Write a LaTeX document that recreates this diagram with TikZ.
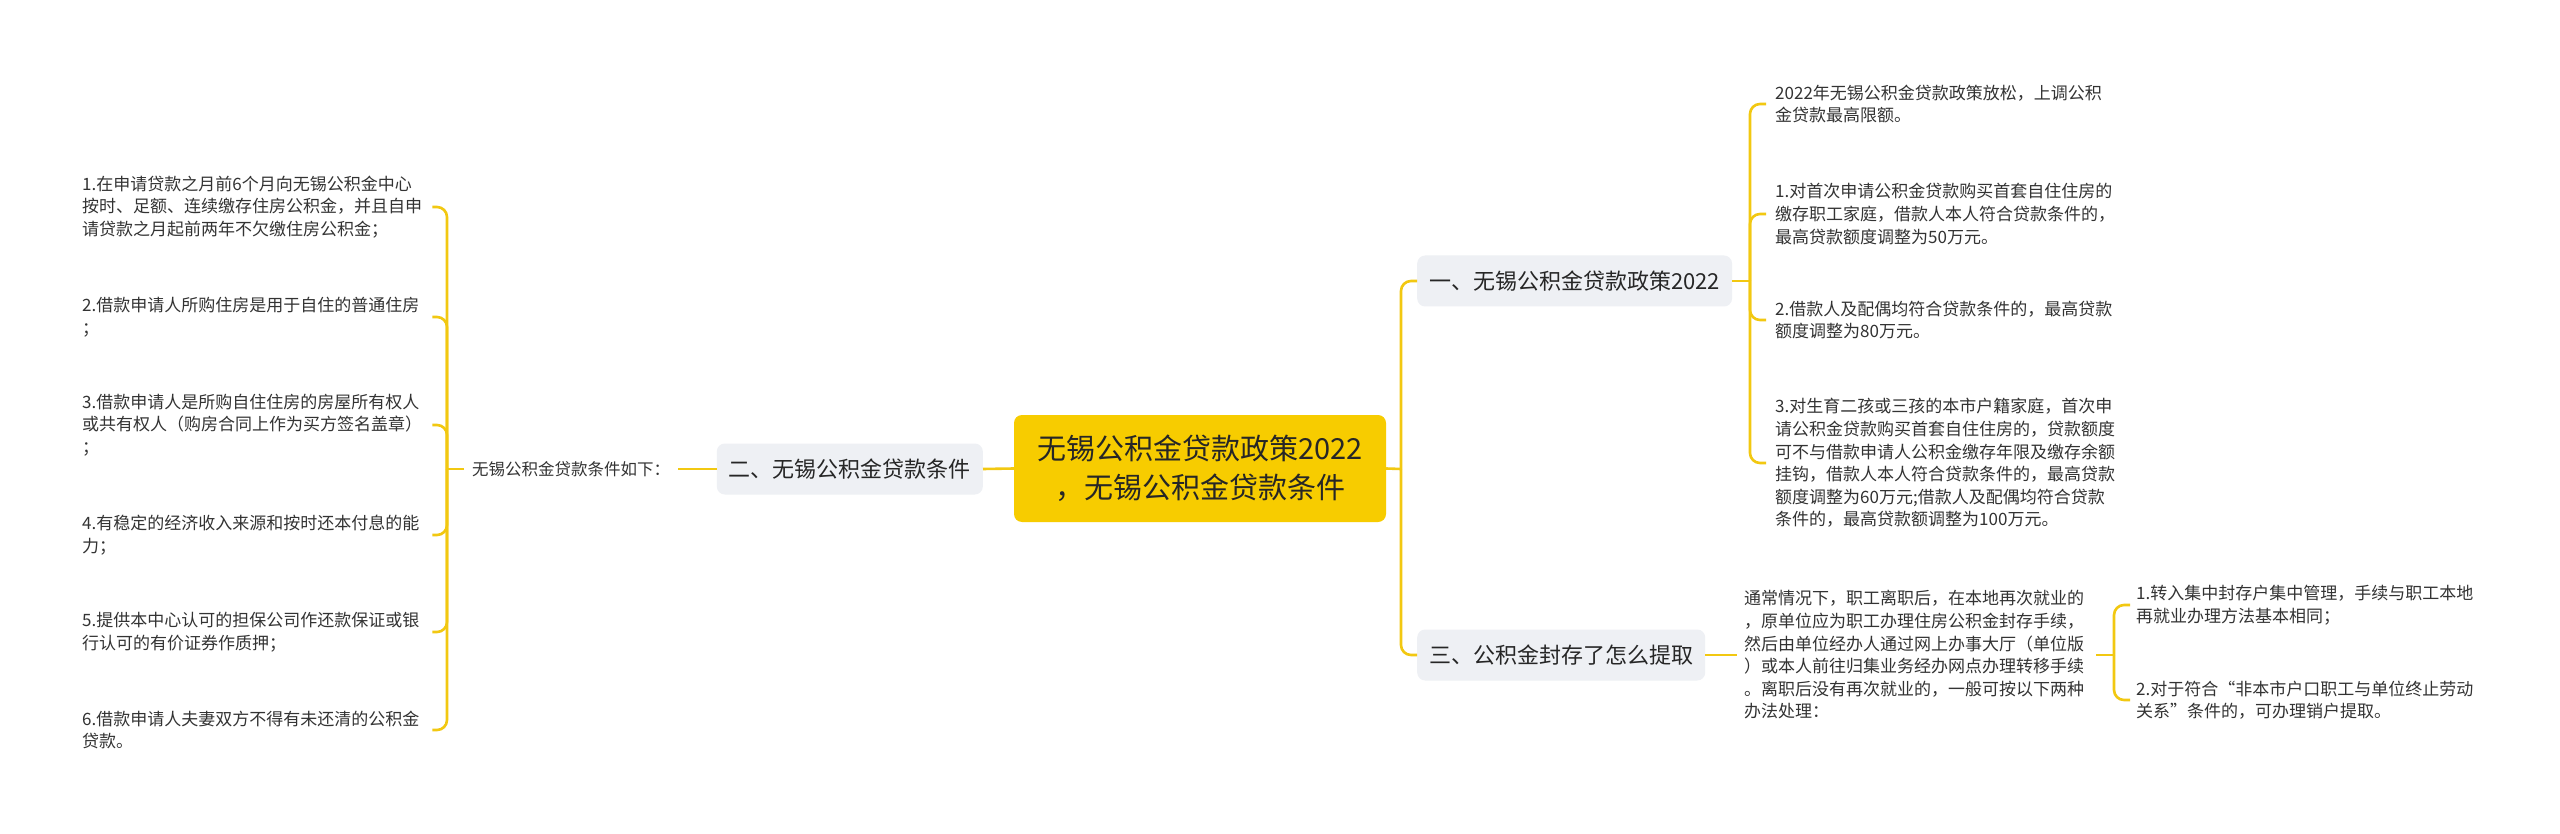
\documentclass[tikz,border=0pt]{standalone}
\usepackage{fontspec}
\setmainfont{Noto Sans CJK SC}
\definecolor{linegold}{HTML}{F2C811}
\definecolor{rootgold}{HTML}{F7CC00}
\definecolor{topicgray}{HTML}{EEF0F4}
\definecolor{inkgray}{HTML}{333333}

\begin{document}
\begin{tikzpicture}[x=1pt,y=-1pt,
	conn/.style={draw=linegold,line width=2.6pt},
	fork/.style={conn,rounded corners=10pt},
	rootbox/.style={fill=rootgold,rounded corners=8pt,minimum width=372pt,minimum height=107pt,align=center,font=\fontsize{29}{39}\selectfont,text=black!85},
	topic/.style={fill=topicgray,rounded corners=8pt,minimum height=51pt,inner xsep=12pt,font=\fontsize{22}{26}\selectfont,text=black!85},
	leaf/.style={inner ysep=0pt,text width=345pt,align=left,font=\fontsize{17}{22.6}\selectfont,text=inkgray}]
	 \fill[white] (0,0) rectangle (2560,834);%page size
	 \useasboundingbox (0,0) rectangle (2560,834);

	    \node[rootbox] (root) at (1200,468.5) {无锡公积金贷款政策2022\\，无锡公积金贷款条件};

	    \node[topic,anchor=west] (t1) at (1417,281) {一、无锡公积金贷款政策2022};
	    \node[topic,anchor=east] (t2) at (983,469) {二、无锡公积金贷款条件};
	    \node[topic,anchor=west] (t3) at (1417,655) {三、公积金封存了怎么提取};

	    \coordinate (rs) at (1401,469);
	    \draw[conn] (root.east) -- (rs);
	    \draw[fork] (rs) |- (t1.west);
	    \draw[fork] (rs) |- (t3.west);
	    \draw[conn] (root.west) -- (t2.east);

	    % left side
	    \node[anchor=west,inner xsep=8pt,font=\fontsize{16.5}{20}\selectfont,text=inkgray] (cond) at (464,469) {无锡公积金贷款条件如下：};
	    \draw[conn] (t2.west) -- (cond.east);
	    \coordinate (ls) at (447,469);
	    \draw[conn] (cond.west) -- (ls);

	    \foreach \n/\y/\t in {
	      c1/207/{1.在申请贷款之月前6个月向无锡公积金中心\\按时、足额、连续缴存住房公积金，并且自申\\请贷款之月起前两年不欠缴住房公积金；},
	      c2/317/{2.借款申请人所购住房是用于自住的普通住房\\；},
	      c3/425/{3.借款申请人是所购自住住房的房屋所有权人\\或共有权人（购房合同上作为买方签名盖章）\\；},
	      c4/535/{4.有稳定的经济收入来源和按时还本付息的能\\力；},
	      c5/632/{5.提供本中心认可的担保公司作还款保证或银\\行认可的有价证券作质押；},
	      c6/730/{6.借款申请人夫妻双方不得有未还清的公积金\\贷款。}}{
	      \node[leaf,anchor=west,inner xsep=5pt] (\n) at (77,\y) {\t};
	      \draw[fork] (ls) |- (\n.east);
	    }

	    % right side, policy
	    \coordinate (ps) at (1750,281);
	    \draw[conn] (t1.east) -- (ps);

	    \foreach \n/\y/\t in {
	      p0/104/{2022年无锡公积金贷款政策放松，上调公积\\金贷款最高限额。},
	      p1/214/{1.对首次申请公积金贷款购买首套自住住房的\\缴存职工家庭，借款人本人符合贷款条件的，\\最高贷款额度调整为50万元。},
	      p2/320/{2.借款人及配偶均符合贷款条件的，最高贷款\\额度调整为80万元。},
	      p3/463/{3.对生育二孩或三孩的本市户籍家庭，首次申\\请公积金贷款购买首套自住住房的，贷款额度\\可不与借款申请人公积金缴存年限及缴存余额\\挂钩，借款人本人符合贷款条件的，最高贷款\\额度调整为60万元;借款人及配偶均符合贷款\\条件的，最高贷款额调整为100万元。}}{
	      \node[leaf,anchor=west,inner xsep=9pt] (\n) at (1766,\y) {\t};
	      \draw[fork] (ps) |- (\n.west);
	    }

	    % right side, sealed fund
	    \node[leaf,anchor=west,inner xsep=7pt] (seal) at (1737,655) {通常情况下，职工离职后，在本地再次就业的\\，原单位应为职工办理住房公积金封存手续，\\然后由单位经办人通过网上办事大厅（单位版\\）或本人前往归集业务经办网点办理转移手续\\。离职后没有再次就业的，一般可按以下两种\\办法处理：};
	    \draw[conn] (t3.east) -- (seal.west);
	    \coordinate (ss) at (2114,655);
	    \draw[conn] (seal.east) -- (ss);

	    \foreach \n/\y/\t in {
	      s1/605/{1.转入集中封存户集中管理，手续与职工本地\\再就业办理方法基本相同；},
	      s2/700/{2.对于符合“非本市户口职工与单位终止劳动\\关系”条件的，可办理销户提取。}}{
	      \node[leaf,anchor=west,inner xsep=6pt] (\n) at (2130,\y) {\t};
	      \draw[fork] (ss) |- (\n.west);
	    }
\end{tikzpicture}
\end{document}
